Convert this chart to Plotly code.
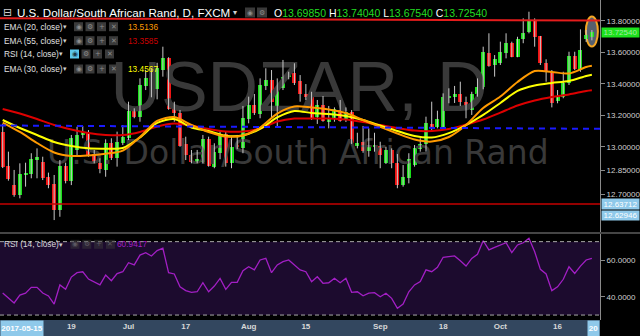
import plotly.graph_objects as go
import pandas as pd

# ---------------- data ----------------
dates = pd.bdate_range("2017-06-01", periods=104)

opens = [13.096, 12.878, 12.757, 12.694, 12.821, 12.827, 12.916, 12.905, 12.806, 12.764,
         12.599, 12.878, 12.785, 12.980, 13.075, 13.089, 12.954, 12.899, 12.853, 13.022,
         12.927, 13.022, 13.054, 13.229, 13.191, 13.386, 13.434, 13.365, 13.487, 13.561,
         13.244, 13.216, 13.018, 12.948, 12.899, 12.905, 13.047, 12.874, 12.962, 13.081,
         12.895, 13.011, 12.990, 13.174, 13.265, 13.208, 13.386, 13.424, 13.233, 13.371,
         13.441, 13.470, 13.419, 13.335, 13.322, 13.187, 13.265, 13.159, 13.174, 13.233,
         13.170, 13.223, 13.005, 13.032, 12.975, 13.000, 13.005, 12.899, 12.980, 12.899,
         12.757, 12.800, 12.884, 12.984, 13.018, 13.145, 13.124, 13.127, 13.314, 13.318,
         13.333, 13.286, 13.233, 13.333, 13.377, 13.597, 13.519, 13.530, 13.593, 13.657,
         13.572, 13.682, 13.730, 13.800, 13.703, 13.533, 13.476, 13.292, 13.314, 13.403,
         13.576, 13.487, 13.682, 13.6985]
highs = [13.145, 12.969, 12.853, 12.895, 12.899, 12.959, 12.990, 12.937, 12.836, 12.821,
         12.916, 12.899, 13.075, 13.127, 13.132, 13.106, 12.980, 12.927, 13.047, 13.054,
         13.096, 13.138, 13.286, 13.244, 13.434, 13.487, 13.498, 13.533, 13.635, 13.568,
         13.286, 13.233, 13.064, 12.980, 12.980, 13.075, 13.064, 13.022, 13.106, 13.096,
         13.064, 13.075, 13.259, 13.318, 13.335, 13.434, 13.498, 13.487, 13.434, 13.551,
         13.476, 13.530, 13.455, 13.398, 13.349, 13.297, 13.322, 13.259, 13.250, 13.297,
         13.250, 13.233, 13.089, 13.132, 13.117, 13.089, 13.032, 13.000, 12.990, 12.954,
         12.884, 12.959, 13.011, 13.054, 13.191, 13.286, 13.229, 13.339, 13.371, 13.386,
         13.413, 13.318, 13.349, 13.434, 13.635, 13.720, 13.582, 13.667, 13.720, 13.667,
         13.698, 13.815, 13.857, 13.815, 13.703, 13.555, 13.487, 13.360, 13.476, 13.603,
         13.603, 13.745, 13.741, 13.7404]
lows = [12.865, 12.785, 12.683, 12.673, 12.747, 12.800, 12.800, 12.789, 12.737, 12.535,
        12.556, 12.768, 12.757, 12.937, 13.054, 12.937, 12.895, 12.832, 12.810, 12.916,
        12.874, 13.011, 13.043, 13.181, 13.159, 13.360, 13.314, 13.301, 13.445, 13.235,
        13.159, 13.000, 12.916, 12.895, 12.895, 12.895, 12.874, 12.864, 12.921, 12.874,
        12.864, 12.985, 12.959, 13.149, 13.202, 13.181, 13.360, 13.181, 13.127, 13.360,
        13.428, 13.392, 13.286, 13.297, 13.170, 13.145, 13.159, 13.117, 13.159, 13.159,
        13.157, 13.018, 12.990, 12.962, 12.937, 12.969, 12.864, 12.891, 12.864, 12.737,
        12.747, 12.768, 12.874, 12.969, 12.969, 13.106, 13.117, 13.124, 13.276, 13.278,
        13.259, 13.181, 13.202, 13.318, 13.365, 13.508, 13.445, 13.519, 13.561, 13.568,
        13.568, 13.657, 13.720, 13.635, 13.519, 13.413, 13.250, 13.276, 13.308, 13.392,
        13.487, 13.476, 13.665, 13.6754]
closes = [12.874, 12.794, 12.694, 12.827, 12.830, 12.921, 12.937, 12.800, 12.757, 12.599,
          12.878, 12.785, 13.054, 13.075, 13.096, 12.948, 12.905, 12.857, 13.022, 12.927,
          13.032, 13.064, 13.229, 13.191, 13.392, 13.434, 13.384, 13.498, 13.561, 13.238,
          13.216, 13.005, 12.948, 12.905, 12.921, 13.047, 12.878, 12.969, 13.075, 12.895,
          13.000, 12.999, 13.181, 13.265, 13.212, 13.392, 13.424, 13.286, 13.371, 13.441,
          13.470, 13.403, 13.335, 13.314, 13.181, 13.265, 13.165, 13.181, 13.238, 13.165,
          13.223, 13.022, 13.026, 12.975, 13.005, 13.011, 12.948, 12.980, 12.895, 12.757,
          12.806, 12.921, 12.990, 13.018, 13.149, 13.124, 13.174, 13.318, 13.322, 13.335,
          13.286, 13.244, 13.335, 13.377, 13.603, 13.514, 13.555, 13.603, 13.657, 13.572,
          13.682, 13.720, 13.804, 13.698, 13.530, 13.483, 13.276, 13.322, 13.403, 13.576,
          13.492, 13.614, 13.709, 13.7254]

# EMA readings taken every third bar plus the last bar
ema_bars = list(range(0, 103, 3)) + [103]
ema20 = [13.154, 13.094, 13.024, 12.964, 12.942, 12.945, 12.956, 12.976, 13.062, 13.164,
         13.189, 13.138, 13.094, 13.065, 13.072, 13.122, 13.211, 13.256, 13.249, 13.237,
         13.214, 13.170, 13.126, 13.084, 13.046, 13.033, 13.062, 13.138, 13.246, 13.319,
         13.411, 13.481, 13.475, 13.465, 13.506, 13.5136]
ema30 = [13.170, 13.119, 13.075, 13.030, 13.005, 12.990, 12.988, 12.992, 13.059, 13.151,
         13.176, 13.122, 13.100, 13.070, 13.072, 13.113, 13.186, 13.227, 13.214, 13.208,
         13.195, 13.170, 13.135, 13.100, 13.068, 13.059, 13.087, 13.138, 13.202, 13.278,
         13.355, 13.389, 13.405, 13.417, 13.449, 13.4567]
ema55 = [13.240, 13.211, 13.176, 13.138, 13.110, 13.087, 13.075, 13.074, 13.094, 13.129,
         13.148, 13.135, 13.113, 13.097, 13.097, 13.116, 13.160, 13.179, 13.179, 13.179,
         13.173, 13.157, 13.138, 13.119, 13.103, 13.100, 13.113, 13.141, 13.173, 13.217,
         13.262, 13.294, 13.316, 13.332, 13.354, 13.3585]

rsi14 = [42.0, 39.3, 36.6, 40.9, 41.9, 45.1, 45.1, 42.0, 40.4, 36.0,
         46.4, 44.0, 50.7, 53.1, 53.6, 49.6, 48.0, 46.4, 51.8, 48.7,
         52.6, 53.6, 58.5, 57.3, 62.7, 64.0, 62.2, 65.1, 66.4, 53.1,
         52.4, 45.4, 43.3, 42.4, 42.7, 47.6, 42.7, 45.8, 50.0, 44.0,
         47.8, 47.8, 54.2, 56.3, 54.6, 60.0, 60.9, 53.1, 57.3, 59.1,
         60.0, 57.3, 54.6, 53.6, 48.2, 50.9, 47.3, 47.6, 50.0, 47.6,
         50.0, 42.4, 42.7, 40.5, 41.9, 42.2, 40.0, 41.9, 39.1, 33.7,
         36.0, 42.7, 46.4, 48.2, 54.6, 53.6, 56.0, 61.5, 61.7, 62.2,
         59.6, 56.7, 60.9, 63.1, 70.5, 65.5, 66.9, 68.2, 69.4, 64.0,
         68.2, 69.4, 71.8, 64.5, 54.9, 52.4, 43.3, 45.4, 49.5, 56.3,
         52.7, 56.7, 60.0, 60.9417]

tick_dates = ["2017-06-19", "2017-07-03", "2017-07-17", "2017-08-01", "2017-08-15",
              "2017-09-01", "2017-09-18", "2017-10-02", "2017-10-16"]
tick_labels = ["19", "Jul", "17", "Aug", "15", "Sep", "18", "Oct", "16"]
price_ticks = [13.8, 13.6, 13.4, 13.2, 13.0, 12.85, 12.7]
rsi_ticks = [60, 40]
rsi_bands = (30, 70)
resistance = (13.815, 13.801)     # drawn red line (left, right)
blue_level = (13.135, 13.114)     # drawn blue dashed line (left, right)
support = 12.63712
support_label2 = "12.62946"
crosshair_date = "2017-05-15"
crosshair_day = "20"

# ---------------- figure ----------------
n = len(dates)
idx = list(range(n))
pos = {d.strftime("%Y-%m-%d"): i for i, d in enumerate(dates)}
tick_idx = [pos[d] for d in tick_dates]

PW, PH = 600.0, 320.0
def fx(px): return px / PW
def fy(py): return 1 - py / PH

FONT = "Liberation Sans"
GREEN, RED = "#19e019", "#f01414"

fig = go.Figure()

# watermark (drawn first, so under the candles)
fig.add_trace(go.Scatter(x=[51.8], y=[13.340], mode="text", text=["USDZAR, D"],
                         textfont=dict(size=70, color="#393939", family=FONT),
                         hoverinfo="skip", showlegend=False))
fig.add_trace(go.Scatter(x=[51.6], y=[12.945], mode="text",
                         text=["U.S. Dollar/South African Rand"],
                         textfont=dict(size=33, color="#393939", family="DejaVu Sans"),
                         hoverinfo="skip", showlegend=False))

# wicks
wx, wy = [], []
for i, (h, l) in enumerate(zip(highs, lows)):
    wx += [i, i, None]
    wy += [l, h, None]
fig.add_trace(go.Scatter(x=wx, y=wy, mode="lines", line=dict(color="#c8c8c8", width=1),
                         hoverinfo="skip", showlegend=False))

# bodies
base = [min(o, c) for o, c in zip(opens, closes)]
hgt = [max(abs(c - o), 0.008) for o, c in zip(opens, closes)]
cols = [GREEN if c >= o else RED for o, c in zip(opens, closes)]
fig.add_trace(go.Bar(x=idx, y=hgt, base=base, width=0.7, marker=dict(color=cols, line=dict(width=0)),
                     hoverinfo="skip", showlegend=False))

# EMAs
for vals, col in [(ema55, "#dd0000"), (ema30, "#ffff00"), (ema20, "#ff9a00")]:
    fig.add_trace(go.Scatter(x=ema_bars, y=vals, mode="lines",
                             line=dict(color=col, width=2, shape="spline", smoothing=0.8),
                             hoverinfo="skip", showlegend=False))

# RSI
fig.add_trace(go.Scatter(x=idx, y=rsi14, yaxis="y2", mode="lines",
                         line=dict(color="#a21fc4", width=1.3),
                         hoverinfo="skip", showlegend=False))

shapes = []
# RSI band + dashed levels
shapes.append(dict(type="rect", xref="paper", x0=0, x1=1, yref="y2", y0=rsi_bands[0], y1=rsi_bands[1],
                   fillcolor="#1c0b2e", line=dict(width=0), layer="below"))
for lv in rsi_bands:
    shapes.append(dict(type="line", xref="paper", x0=0, x1=1, yref="y2", y0=lv, y1=lv,
                       line=dict(color="#a8a8a8", width=1, dash="4px,3px")))
# pane separator
shapes.append(dict(type="line", xref="paper", x0=0, x1=640 / PW, yref="paper", y0=fy(233), y1=fy(233),
                   line=dict(color="#8a8a8a", width=1)))
# time bar
shapes.append(dict(type="rect", xref="paper", x0=0, x1=1, yref="paper", y0=fy(336), y1=0,
                   fillcolor="#33475f", line=dict(width=0), layer="below"))
# drawn levels
shapes.append(dict(type="line", xref="paper", x0=0, x1=1, yref="y", y0=resistance[0], y1=resistance[1],
                   line=dict(color="#e51c1c", width=2)))
shapes.append(dict(type="line", xref="paper", x0=0, x1=1, yref="y", y0=support, y1=support,
                   line=dict(color="#c40000", width=1.5)))
shapes.append(dict(type="line", xref="paper", x0=0, x1=1, yref="y", y0=blue_level[0], y1=blue_level[1],
                   line=dict(color="#1a1aff", width=2, dash="6px,5px")))
# highlight ellipse around the last bar
last = n - 1
shapes.append(dict(type="circle", xref="x", yref="y", x0=last - 1.05, x1=last + 1.05,
                   y0=13.636, y1=13.827, fillcolor="rgba(95,105,122,0.9)",
                   line=dict(color="#f5a623", width=2), layer="below"))

ann = []
def txt(px, py, s, size, color, anchor="left", family=FONT):
    ann.append(dict(xref="paper", yref="paper", x=fx(px), y=fy(py), text=s, showarrow=False,
                    xanchor=anchor, yanchor="middle",
                    font=dict(size=size, color=color, family=family)))

def icon_box(px0, py, sym, fill="#3a3a3a", scol="#8c8c8c", w=9, h=9, opacity=1.0):
    shapes.append(dict(type="rect", xref="paper", yref="paper", x0=fx(px0), x1=fx(px0 + w),
                       y0=fy(py + h / 2), y1=fy(py - h / 2), fillcolor=fill,
                       line=dict(width=0), opacity=opacity, layer="above"))
    ann.append(dict(xref="paper", yref="paper", x=fx(px0 + w / 2), y=fy(py), text=sym,
                    showarrow=False, xanchor="center", yanchor="middle",
                    font=dict(size=7, color=scol, family="DejaVu Sans"), opacity=opacity))

# header
txt(1, 12.5, "⊟", 11, "#d0d0d0", family="DejaVu Sans")
txt(14.5, 12.5, "U.S. Dollar/South African Rand, D, FXCM", 11.6, "#ffffff")
txt(231, 12.5, "▾", 8, "#d0d0d0")
icon_box(245, 12.5, "◉", w=10, h=10)
icon_box(257, 12.5, "⚙", w=10, h=10)
gc = "#22dd22"
ohlc = (f"O<span style='color:{gc}'>{opens[-1]:.5f}</span> "
        f"H<span style='color:{gc}'>{highs[-1]:.5f}</span> "
        f"L<span style='color:{gc}'>{lows[-1]:.5f}</span> "
        f"C<span style='color:{gc}'>{closes[-1]:.5f}</span>")
txt(272, 12.5, ohlc, 10.5, "#ffffff")

# indicator legend rows
rows = [("EMA (20, close)", f"{ema20[-1]:.4f}", "#ff9a00", 26.7, 74),
        ("EMA (55, close)", f"{ema55[-1]:.4f}", "#cc0000", 40.7, 74),
        ("RSI (14, close)", None, None, 54.0, 70),
        ("EMA (30, close)", f"{ema30[-1]:.4f}", "#ffff00", 69.0, 74)]
for label, val, vcol, py, bx in rows:
    txt(1.5, py, label, 8.3, "#e0e0e0")
    txt(bx - 13, py, "▾", 7, "#d0d0d0")
    if val is None:
        icon_box(bx, py, "◉", fill="#5cc8ec", scol="#1b3a4a")
    else:
        icon_box(bx, py, "◉")
    icon_box(bx + 11.5, py, "⚙")
    icon_box(bx + 23, py, "+")
    icon_box(bx + 35, py, "✕")
    if val is not None:
        txt(126, py, val, 8.3, vcol)

# RSI pane legend
txt(1.5, 244.3, "RSI (14, close)", 8.3, "#d8d8d8")
txt(57, 244.3, "▾", 7, "#d0d0d0")
for k, sym in enumerate(["◉", "⚙", "+", "✕"]):
    icon_box(70.5 + 11.8 * k, 244.3, sym, opacity=0.5)
txt(115, 244.3, f"{rsi14[-1]:.4f}", 8.3, "#a21fc4")

# right-axis value labels
ann.append(dict(xref="paper", yref="y", x=fx(601), y=closes[-1], text=f"{closes[-1]:.5f}",
                showarrow=False, xanchor="left", yanchor="middle", bgcolor="#1de21d",
                width=37, height=9, borderpad=0,
                font=dict(size=8, color="#a6eaa6", family=FONT)))
ann.append(dict(xref="paper", yref="y", x=fx(601), y=support, text=f"{support:.5f}",
                showarrow=False, xanchor="left", yanchor="middle", bgcolor="#8fc9ea",
                width=37, height=10, borderpad=0,
                font=dict(size=8, color="#ffffff", family=FONT)))
ann.append(dict(xref="paper", yref="y", x=fx(601), y=support, yshift=-12, text=support_label2,
                showarrow=False, xanchor="left", yanchor="middle", bgcolor="#8fc9ea",
                width=37, height=9, borderpad=0,
                font=dict(size=8, color="#ffffff", family=FONT)))
# crosshair date boxes on the time bar
ann.append(dict(xref="paper", yref="paper", x=0, y=fy(328), text=f"<b>{crosshair_date}</b>",
                showarrow=False, xanchor="left", yanchor="middle", bgcolor="#8fc9ea",
                width=42, height=15, borderpad=0,
                font=dict(size=8, color="#ffffff", family=FONT)))
ann.append(dict(xref="paper", yref="paper", x=1, y=fy(328), text=f"<b>{crosshair_day}</b>",
                showarrow=False, xanchor="right", yanchor="middle", bgcolor="#8fc9ea",
                width=11, height=15, borderpad=0,
                font=dict(size=8, color="#ffffff", family=FONT)))

axis_font = dict(size=8, color="#cfcfcf", family=FONT)
fig.update_layout(
    width=640, height=336,
    margin=dict(l=0, r=40, t=0, b=16, pad=0),
    paper_bgcolor="#000000", plot_bgcolor="rgba(0,0,0,0)",
    showlegend=False, bargap=0,
    xaxis=dict(domain=[0, 1], range=[-0.47, 104.42], anchor="y2", showgrid=False, zeroline=False,
               showline=False, tickvals=tick_idx, ticktext=[f"<b>{t}</b>" for t in tick_labels],
               ticks="", tickfont=dict(size=8, color="#d8d8d8", family=FONT)),
    yaxis=dict(domain=[1 - 232 / PH, 1], range=[12.4593, 13.9313], anchor="x", side="right",
               showgrid=False, zeroline=False, showline=True, linecolor="#8a8a8a", linewidth=1,
               ticks="outside", ticklen=4, tickcolor="#8a8a8a",
               tickvals=price_ticks, ticktext=[f"{v:.5f}" for v in price_ticks], tickfont=axis_font),
    yaxis2=dict(domain=[0, 86 / PH], range=[27.3, 74.17], anchor="x", side="right",
                showgrid=False, zeroline=False, showline=True, linecolor="#8a8a8a", linewidth=1,
                ticks="outside", ticklen=4, tickcolor="#8a8a8a",
                tickvals=rsi_ticks, ticktext=[f"{v:.4f}" for v in rsi_ticks], tickfont=axis_font),
    shapes=shapes, annotations=ann,
)

fig.write_html("out.html")
